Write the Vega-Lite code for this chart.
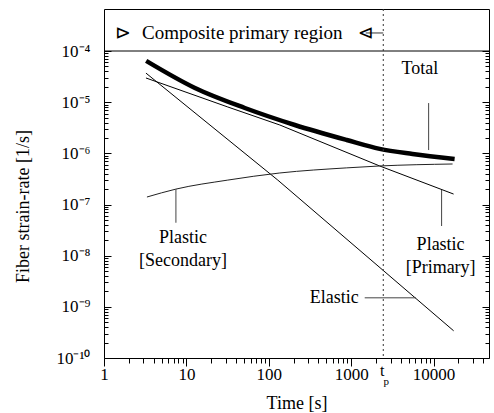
{
  "$schema": "https://vega.github.io/schema/vega-lite/v6.json",
  "width": 385,
  "height": 349,
  "autosize": {"type": "none"},
  "padding": {"left": 104, "top": 9, "right": 5, "bottom": 55},
  "background": "white",
  "config": {
    "font": "Liberation Serif",
    "view": {"stroke": "black", "strokeWidth": 1},
    "axis": {
      "domain": false,
      "grid": false,
      "tickColor": "black",
      "tickWidth": 1,
      "labelColor": "black",
      "titleColor": "black",
      "labelFont": "Liberation Serif",
      "titleFont": "Liberation Serif",
      "labelFontSize": 17,
      "titleFontSize": 18,
      "titleFontWeight": "normal"
    },
    "text": {"font": "Liberation Serif", "fontSize": 18, "color": "black"}
  },
  "datasets": {
    "total": [
      {"t": 3.25, "rate": 6.4e-5},
      {"t": 12.7, "rate": 1.89e-5},
      {"t": 51.2, "rate": 7.69e-6},
      {"t": 207, "rate": 3.58e-6},
      {"t": 882, "rate": 1.82e-6},
      {"t": 2215, "rate": 1.22e-6},
      {"t": 5560, "rate": 9.7e-7},
      {"t": 17980, "rate": 7.75e-7}
    ],
    "elastic": [
      {"t": 3.23, "rate": 3.7e-5},
      {"t": 128.5, "rate": 3.0e-7},
      {"t": 17500, "rate": 3.4e-10}
    ],
    "primary": [
      {"t": 3.23, "rate": 2.97e-5},
      {"t": 31.8, "rate": 8.05e-6},
      {"t": 136, "rate": 3.58e-6},
      {"t": 2215, "rate": 5.66e-7},
      {"t": 17470, "rate": 1.6e-7}
    ],
    "secondary": [
      {"t": 3.32, "rate": 1.4e-7},
      {"t": 7.46, "rate": 2.0e-7},
      {"t": 31.8, "rate": 3.0e-7},
      {"t": 136, "rate": 4.13e-7},
      {"t": 882, "rate": 5.2e-7},
      {"t": 2215, "rate": 5.66e-7},
      {"t": 16990, "rate": 6.19e-7}
    ],
    "leaders": [
      {"name": "Total", "x": 8700, "x2": 8700, "y": 9.6e-6, "y2": 1.16e-6},
      {"name": "Primary", "x": 12500, "x2": 12500, "y": 1.92e-7, "y2": 3.8e-8},
      {"name": "Secondary", "x": 7.46, "x2": 7.46, "y": 2.0e-7, "y2": 4.4e-8},
      {"name": "Elastic", "x": 1458, "x2": 6100, "y": 1.5e-9, "y2": 1.5e-9}
    ],
    "band_arrow": [
      {"x": 1500, "x2": 2450, "y": 2.25e-4, "y2": 2.25e-4}
    ],
    "labels_center": [
      {"x": 6800, "y": 4.45e-5, "label": "Total"},
      {"x": 12160, "y": 1.62e-8, "label": "Plastic"},
      {"x": 12160, "y": 5.74e-9, "label": "[Primary]"},
      {"x": 9.07, "y": 2.22e-8, "label": "Plastic"},
      {"x": 9.07, "y": 7.87e-9, "label": "[Secondary]"}
    ],
    "labels_right": [
      {"x": 1233, "y": 1.49e-9, "label": "Elastic"}
    ],
    "band_text": [
      {"x": 2.89, "y": 2.25e-4, "label": "Composite primary region"}
    ],
    "band_marks": [
      {"x": 1.7, "y": 2.25e-4, "label": "⊳"},
      {"x": 1500, "y": 2.25e-4, "label": "⊲"}
    ],
    "tp": [
      {"x": 2450, "y": 1e-10, "t": "t", "p": "p"}
    ]
  },
  "resolve": {"axis": {"x": "independent", "y": "independent"}},
  "layer": [
    {
      "data": {"name": "total"},
      "mark": {"type": "line", "color": "black", "strokeWidth": 4.5, "interpolate": "monotone"},
      "encoding": {
        "x": {
          "field": "t", "type": "quantitative",
          "scale": {"type": "log", "domain": [1, 47000], "nice": false},
          "axis": {
            "orient": "bottom",
            "values": [1, 10, 100, 1000, 10000],
            "format": "d",
            "tickSize": 8,
            "labelPadding": 0,
            "labelFlush": false,
            "labelOverlap": false,
            "title": "Time [s]",
            "titleY": 45,
            "titleBaseline": "middle"
          }
        },
        "y": {
          "field": "rate", "type": "quantitative",
          "scale": {"type": "log", "domain": [1e-10, 6.62e-4], "nice": false},
          "axis": {
            "orient": "left",
            "values": [1e-10, 1e-9, 1e-8, 1e-7, 1e-6, 1e-5, 1e-4],
            "ticks": false,
            "labelPadding": 14,
            "labelFontSize": 17,
            "labelOverlap": false,
            "labelExpr": "'10⁻' + (round(-log(datum.value)/LN10) == 10 ? '¹⁰' : ['⁰','¹','²','³','⁴','⁵','⁶','⁷','⁸','⁹'][round(-log(datum.value)/LN10)])",
            "title": "Fiber strain-rate [1/s]",
            "titleX": -81,
            "titleY": 197,
            "titleBaseline": "middle"
          }
        }
      }
    },
    {
      "data": {"name": "elastic"},
      "mark": {"type": "line", "color": "black", "strokeWidth": 1},
      "encoding": {
        "x": {
          "field": "t", "type": "quantitative",
          "scale": {"type": "log", "domain": [1, 47000], "nice": false},
          "axis": {
            "orient": "bottom",
            "values": [2, 3, 4, 5, 6, 7, 8, 9, 20, 30, 40, 50, 60, 70, 80, 90, 200, 300, 400, 500, 600, 700, 800, 900, 2000, 3000, 4000, 5000, 6000, 7000, 8000, 9000, 20000, 30000, 40000],
            "tickSize": 5,
            "labels": false,
            "title": null
          }
        },
        "y": {
          "field": "rate", "type": "quantitative",
          "scale": {"type": "log", "domain": [1e-10, 6.62e-4], "nice": false},
          "axis": {
            "orient": "left",
            "values": [1e-10, 1e-9, 1e-8, 1e-7, 1e-6, 1e-5, 1e-4],
            "tickSize": -7,
            "labels": false,
            "title": null
          }
        }
      }
    },
    {
      "data": {"name": "primary"},
      "mark": {"type": "line", "color": "black", "strokeWidth": 1},
      "encoding": {
        "x": {
          "field": "t", "type": "quantitative",
          "scale": {"type": "log", "domain": [1, 47000], "nice": false},
          "axis": null
        },
        "y": {
          "field": "rate", "type": "quantitative",
          "scale": {"type": "log", "domain": [1e-10, 6.62e-4], "nice": false},
          "axis": {
            "orient": "left",
            "values": [2e-10, 3e-10, 4e-10, 5e-10, 6e-10, 7e-10, 8e-10, 9e-10, 2e-9, 3e-9, 4e-9, 5e-9, 6e-9, 7e-9, 8e-9, 9e-9, 2e-8, 3e-8, 4e-8, 5e-8, 6e-8, 7e-8, 8e-8, 9e-8, 2e-7, 3e-7, 4e-7, 5e-7, 6e-7, 7e-7, 8e-7, 9e-7, 2e-6, 3e-6, 4e-6, 5e-6, 6e-6, 7e-6, 8e-6, 9e-6, 2e-5, 3e-5, 4e-5, 5e-5, 6e-5, 7e-5, 8e-5, 9e-5],
            "tickSize": -4,
            "labels": false,
            "title": null
          }
        }
      }
    },
    {
      "data": {"name": "secondary"},
      "mark": {"type": "line", "color": "#222", "strokeWidth": 1, "interpolate": "monotone"},
      "encoding": {
        "x": {
          "field": "t", "type": "quantitative",
          "scale": {"type": "log", "domain": [1, 47000], "nice": false},
          "axis": null
        },
        "y": {
          "field": "rate", "type": "quantitative",
          "scale": {"type": "log", "domain": [1e-10, 6.62e-4], "nice": false},
          "axis": {
            "orient": "right",
            "values": [1e-10, 1e-9, 1e-8, 1e-7, 1e-6, 1e-5, 1e-4],
            "tickSize": -7,
            "labels": false,
            "title": null
          }
        }
      }
    },
    {
      "data": {"name": "leaders"},
      "mark": {"type": "rule", "color": "#444", "strokeWidth": 1},
      "encoding": {
        "x": {
          "field": "x", "type": "quantitative",
          "scale": {"type": "log", "domain": [1, 47000], "nice": false},
          "axis": null
        },
        "x2": {"field": "x2"},
        "y": {
          "field": "y", "type": "quantitative",
          "scale": {"type": "log", "domain": [1e-10, 6.62e-4], "nice": false},
          "axis": {
            "orient": "right",
            "values": [2e-10, 3e-10, 4e-10, 5e-10, 6e-10, 7e-10, 8e-10, 9e-10, 2e-9, 3e-9, 4e-9, 5e-9, 6e-9, 7e-9, 8e-9, 9e-9, 2e-8, 3e-8, 4e-8, 5e-8, 6e-8, 7e-8, 8e-8, 9e-8, 2e-7, 3e-7, 4e-7, 5e-7, 6e-7, 7e-7, 8e-7, 9e-7, 2e-6, 3e-6, 4e-6, 5e-6, 6e-6, 7e-6, 8e-6, 9e-6, 2e-5, 3e-5, 4e-5, 5e-5, 6e-5, 7e-5, 8e-5, 9e-5],
            "tickSize": -4,
            "labels": false,
            "title": null
          }
        },
        "y2": {"field": "y2"}
      }
    },
    {
      "data": {"values": [{"level": 1e-4}]},
      "mark": {"type": "rule", "color": "black", "strokeWidth": 1},
      "encoding": {
        "y": {
          "field": "level", "type": "quantitative",
          "scale": {"type": "log", "domain": [1e-10, 6.62e-4], "nice": false},
          "axis": null
        }
      }
    },
    {
      "data": {"values": [{"tp": 2450}]},
      "mark": {"type": "rule", "color": "#333", "strokeWidth": 1, "strokeDash": [2, 3]},
      "encoding": {
        "x": {
          "field": "tp", "type": "quantitative",
          "scale": {"type": "log", "domain": [1, 47000], "nice": false},
          "axis": null
        }
      }
    },
    {
      "data": {"name": "band_arrow"},
      "mark": {"type": "rule", "color": "#333", "strokeWidth": 1},
      "encoding": {
        "x": {
          "field": "x", "type": "quantitative",
          "scale": {"type": "log", "domain": [1, 47000], "nice": false},
          "axis": null
        },
        "x2": {"field": "x2"},
        "y": {
          "field": "y", "type": "quantitative",
          "scale": {"type": "log", "domain": [1e-10, 6.62e-4], "nice": false},
          "axis": null
        }
      }
    },
    {
      "data": {"name": "labels_center"},
      "mark": {"type": "text", "align": "center", "baseline": "middle", "font": "Liberation Serif", "fontSize": 18},
      "encoding": {
        "x": {
          "field": "x", "type": "quantitative",
          "scale": {"type": "log", "domain": [1, 47000], "nice": false},
          "axis": null
        },
        "y": {
          "field": "y", "type": "quantitative",
          "scale": {"type": "log", "domain": [1e-10, 6.62e-4], "nice": false},
          "axis": null
        },
        "text": {"field": "label"}
      }
    },
    {
      "data": {"name": "labels_right"},
      "mark": {"type": "text", "align": "right", "baseline": "middle", "font": "Liberation Serif", "fontSize": 18},
      "encoding": {
        "x": {
          "field": "x", "type": "quantitative",
          "scale": {"type": "log", "domain": [1, 47000], "nice": false},
          "axis": null
        },
        "y": {
          "field": "y", "type": "quantitative",
          "scale": {"type": "log", "domain": [1e-10, 6.62e-4], "nice": false},
          "axis": null
        },
        "text": {"field": "label"}
      }
    },
    {
      "data": {"name": "band_text"},
      "mark": {"type": "text", "align": "left", "baseline": "middle", "font": "Liberation Serif", "fontSize": 19},
      "encoding": {
        "x": {
          "field": "x", "type": "quantitative",
          "scale": {"type": "log", "domain": [1, 47000], "nice": false},
          "axis": null
        },
        "y": {
          "field": "y", "type": "quantitative",
          "scale": {"type": "log", "domain": [1e-10, 6.62e-4], "nice": false},
          "axis": null
        },
        "text": {"field": "label"}
      }
    },
    {
      "data": {"name": "band_marks"},
      "mark": {"type": "text", "align": "center", "baseline": "middle", "font": "DejaVu Sans", "fontSize": 19, "fontWeight": "normal"},
      "encoding": {
        "x": {
          "field": "x", "type": "quantitative",
          "scale": {"type": "log", "domain": [1, 47000], "nice": false},
          "axis": null
        },
        "y": {
          "field": "y", "type": "quantitative",
          "scale": {"type": "log", "domain": [1e-10, 6.62e-4], "nice": false},
          "axis": null
        },
        "text": {"field": "label"}
      }
    },
    {
      "data": {"name": "tp"},
      "mark": {"type": "text", "align": "center", "baseline": "middle", "font": "Liberation Serif", "fontSize": 16, "dy": 13, "dx": -1},
      "encoding": {
        "x": {
          "field": "x", "type": "quantitative",
          "scale": {"type": "log", "domain": [1, 47000], "nice": false},
          "axis": null
        },
        "y": {
          "field": "y", "type": "quantitative",
          "scale": {"type": "log", "domain": [1e-10, 6.62e-4], "nice": false},
          "axis": null
        },
        "text": {"field": "t"}
      }
    },
    {
      "data": {"name": "tp"},
      "mark": {"type": "text", "align": "center", "baseline": "middle", "font": "Liberation Serif", "fontSize": 11, "dy": 24, "dx": 3},
      "encoding": {
        "x": {
          "field": "x", "type": "quantitative",
          "scale": {"type": "log", "domain": [1, 47000], "nice": false},
          "axis": null
        },
        "y": {
          "field": "y", "type": "quantitative",
          "scale": {"type": "log", "domain": [1e-10, 6.62e-4], "nice": false},
          "axis": null
        },
        "text": {"field": "p"}
      }
    }
  ]
}
